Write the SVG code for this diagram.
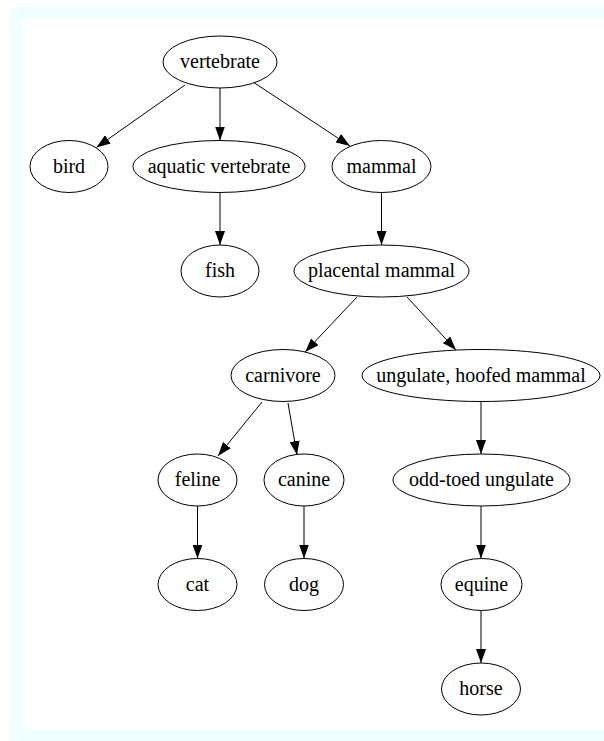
<svg xmlns="http://www.w3.org/2000/svg" width="604" height="741" viewBox="0 0 604 741">
<style>
  .n ellipse { fill: #ffffff; stroke: #000000; stroke-width: 1; }
  .n text { font-family: "Liberation Serif", "Times New Roman", serif; font-size: 20px; text-anchor: middle; fill: #000000; }
  .e line { stroke: #000000; stroke-width: 1; fill: none; marker-end: url(#arr); }
</style>
<defs>
  <marker id="arr" markerUnits="userSpaceOnUse" markerWidth="15" markerHeight="10" refX="14" refY="5" orient="auto">
    <path d="M0,0 L14,5 L0,10 z" fill="#000000"/>
  </marker>
</defs>
<rect x="0" y="0" width="604" height="741" fill="#ffffff"/>
<rect x="11" y="7" width="593" height="734" fill="#f0ffff"/>
<rect x="22" y="18" width="582" height="711" fill="#ffffff"/>
<g id="edges" class="e">
  <line x1="185" y1="85" x2="96.4" y2="147.4"/>
  <line x1="220" y1="88" x2="220" y2="140.5"/>
  <line x1="253" y1="82" x2="350" y2="146"/>
  <line x1="220" y1="193" x2="220" y2="245"/>
  <line x1="381.5" y1="192.5" x2="381.5" y2="245"/>
  <line x1="357" y1="297" x2="305.2" y2="352"/>
  <line x1="407" y1="297" x2="456" y2="350"/>
  <line x1="262" y1="402" x2="218" y2="456"/>
  <line x1="288" y1="403" x2="297" y2="455"/>
  <line x1="197.5" y1="506" x2="197.5" y2="558.5"/>
  <line x1="304" y1="506" x2="304" y2="558.5"/>
  <line x1="481" y1="401.5" x2="481" y2="454"/>
  <line x1="481" y1="506" x2="481" y2="558.5"/>
  <line x1="481" y1="610.5" x2="481" y2="663"/>
</g>
<g id="vertebrate" class="n"><ellipse cx="220" cy="62" rx="57" ry="26"/><text x="220" y="68">vertebrate</text></g>
<g id="bird" class="n"><ellipse cx="69" cy="166.5" rx="39" ry="26"/><text x="69" y="172.5">bird</text></g>
<g id="aquatic_vertebrate" class="n"><ellipse cx="219" cy="166.5" rx="86" ry="26"/><text x="219" y="172.5">aquatic vertebrate</text></g>
<g id="mammal" class="n"><ellipse cx="381.5" cy="166.5" rx="49.5" ry="26"/><text x="381.5" y="172.5">mammal</text></g>
<g id="fish" class="n"><ellipse cx="220" cy="271" rx="39" ry="26"/><text x="220" y="277">fish</text></g>
<g id="placental_mammal" class="n"><ellipse cx="381.5" cy="271" rx="87.5" ry="26"/><text x="381.5" y="277">placental mammal</text></g>
<g id="carnivore" class="n"><ellipse cx="283" cy="375.5" rx="52" ry="26"/><text x="283" y="381.5">carnivore</text></g>
<g id="ungulate_hoofed_mammal" class="n"><ellipse cx="481" cy="375.5" rx="119" ry="26"/><text x="481" y="381.5">ungulate, hoofed mammal</text></g>
<g id="feline" class="n"><ellipse cx="197.5" cy="480" rx="39.5" ry="26"/><text x="197.5" y="486">feline</text></g>
<g id="canine" class="n"><ellipse cx="304" cy="480" rx="40" ry="26"/><text x="304" y="486">canine</text></g>
<g id="odd_toed_ungulate" class="n"><ellipse cx="481.5" cy="480" rx="88.5" ry="26"/><text x="481.5" y="486">odd-toed ungulate</text></g>
<g id="cat" class="n"><ellipse cx="197.5" cy="584.5" rx="39.5" ry="26"/><text x="197.5" y="590.5">cat</text></g>
<g id="dog" class="n"><ellipse cx="304" cy="584.5" rx="39.5" ry="26"/><text x="304" y="590.5">dog</text></g>
<g id="equine" class="n"><ellipse cx="481.5" cy="584.5" rx="40.5" ry="26"/><text x="481.5" y="590.5">equine</text></g>
<g id="horse" class="n"><ellipse cx="481" cy="689" rx="39.5" ry="26"/><text x="481" y="695">horse</text></g>
</svg>
